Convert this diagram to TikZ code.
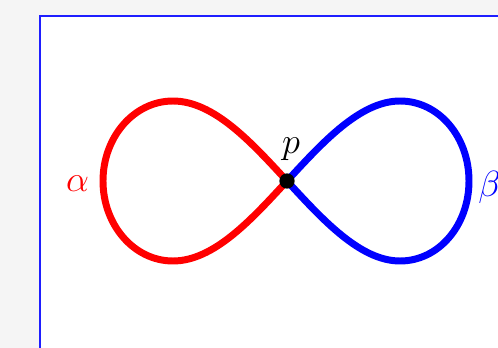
\documentclass[tikz,border=0pt]{standalone}
\definecolor{frameblue}{RGB}{30,30,255}
\begin{document}
\begin{tikzpicture}[x=0.02cm,y=-0.02cm,
  loopline/.style={line width=3.97pt, line cap=round},
  lbl/.style={inner sep=0pt, font=\huge}]
\useasboundingbox (0,0) rectangle (498,348);
\fill[black!4] (0,0) rectangle (498,348);
\fill[white] (39.5,15.5) rectangle (520,370);
\draw[draw=frameblue, line width=1.2pt] (40,370) -- (40,16) -- (520,16);
\coordinate (P) at (287,181);
\coordinate (LT) at (173,101);
\coordinate (LL) at (103,181);
\coordinate (LB) at (173,261);
\coordinate (RT) at (400,101);
\coordinate (RR) at (469,181);
\coordinate (RB) at (400,261);
\draw[loopline, red] (P) .. controls (252,143) and (214,101) .. (LT)
  .. controls (134,101) and (103,137) .. (LL)
  .. controls (103,225) and (134,261) .. (LB)
  .. controls (214,261) and (252,219) .. (P);
\draw[loopline, blue] (P) .. controls (322,143) and (360,101) .. (RT)
  .. controls (439,101) and (469,137) .. (RR)
  .. controls (469,225) and (439,261) .. (RB)
  .. controls (360,261) and (322,219) .. (P);
\node[circle, fill=black, minimum size=8.7pt, inner sep=0pt] (dot) at (P) {};
\node[lbl, red, anchor=base] (alpha) at (77.5,192) {$\alpha$};
\node[lbl, anchor=base] (p) at (291,154) {$p$};
\node[lbl, blue, anchor=base west] (beta) at (478,197) {$\beta$};
\end{tikzpicture}
\end{document}
